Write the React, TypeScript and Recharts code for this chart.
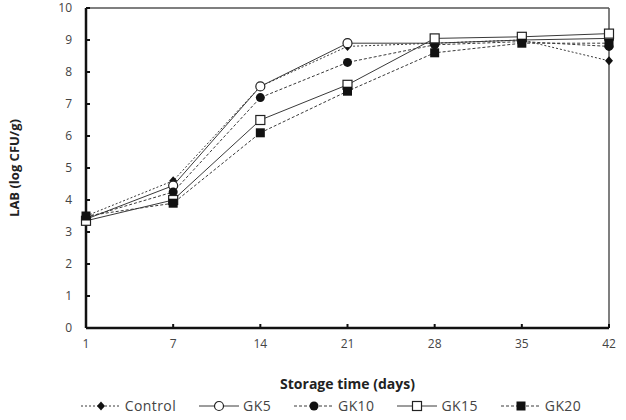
import React from "react"
import { LineChart, Line, XAxis, YAxis, ReferenceLine, Legend } from "recharts"

const days = ["1", "7", "14", "21", "28", "35", "42"]
const yTicks = [0, 1, 2, 3, 4, 5, 6, 7, 8, 9, 10]

const control = [3.5, 4.6, 7.55, 8.8, 8.9, 9.0, 8.35]
const gk5 = [3.4, 4.45, 7.55, 8.9, 8.9, 9.0, 9.05]
const gk10 = [3.45, 4.25, 7.2, 8.3, 8.85, 8.95, 8.8]
const gk15 = [3.35, 4.0, 6.5, 7.6, 9.05, 9.1, 9.2]
const gk20 = [3.5, 3.9, 6.1, 7.4, 8.6, 8.9, 8.9]

type Shape = "diamond" | "circleOpen" | "circle" | "squareOpen" | "square"

const series: { key: string; name: string; values: number[]; shape: Shape; dash?: string }[] = [
    { key: "control", name: "Control", values: control, shape: "diamond", dash: "2 2" },
    { key: "gk5", name: "GK5", values: gk5, shape: "circleOpen" },
    { key: "gk10", name: "GK10", values: gk10, shape: "circle", dash: "3 2" },
    { key: "gk15", name: "GK15", values: gk15, shape: "squareOpen" },
    { key: "gk20", name: "GK20", values: gk20, shape: "square", dash: "3 2" },
]

const data = days.map((d, i) => {
    const row: Record<string, string | number> = { day: d }
    series.forEach((s) => {
        row[s.key] = s.values[i]
    })
    return row
})

const FONT = "'Open Sans', 'Noto Sans', sans-serif"
const LINE = "#3a3a3a"

function Marker({ cx, cy, shape }: { cx: number; cy: number; shape: Shape }) {
    switch (shape) {
        case "diamond":
            return <path d={`M${cx},${cy - 4.5}L${cx + 4},${cy}L${cx},${cy + 4.5}L${cx - 4},${cy}Z`} fill="#111" />
        case "circleOpen":
            return <circle cx={cx} cy={cy} r={4.5} fill="#fff" stroke="#222" strokeWidth={1.2} />
        case "circle":
            return <circle cx={cx} cy={cy} r={4.5} fill="#111" />
        case "squareOpen":
            return <rect x={cx - 4.5} y={cy - 4.5} width={9} height={9} fill="#fff" stroke="#222" strokeWidth={1.2} />
        default:
            return <rect x={cx - 4.5} y={cy - 4.5} width={9} height={9} fill="#111" />
    }
}

function LegendContent() {
    return (
        <div
            style={{
                display: "flex",
                justifyContent: "center",
                alignItems: "center",
                gap: 22,
                fontFamily: FONT,
                fontSize: 14,
                letterSpacing: 0.4,
                color: "#444",
                paddingLeft: 48,
            }}
        >
            {series.map((s) => (
                <div key={s.key} style={{ display: "flex", alignItems: "center" }}>
                    <svg width={42} height={12}>
                        <line x1={1} y1={6} x2={41} y2={6} stroke={LINE} strokeWidth={1} strokeDasharray={s.dash} />
                        <Marker cx={21} cy={6} shape={s.shape} />
                    </svg>
                    <span style={{ marginLeft: 3 }}>{s.name}</span>
                </div>
            ))}
        </div>
    )
}

export default function App() {
    return (
        <div style={{ position: "absolute", left: 0, top: 0, background: "#fff" }}>
            <LineChart width={626} height={420} data={data} margin={{ top: 8, right: 17, left: 4, bottom: 0 }}>
                <XAxis
                    dataKey="day"
                    height={68}
                    axisLine={{ stroke: "#111", strokeWidth: 2.5 }}
                    tickLine={{ stroke: "#111", strokeWidth: 2 }}
                    tickSize={-4}
                    tickMargin={15}
                    tick={{ fontSize: 12, fill: "#444", fontFamily: FONT }}
                    label={{
                        value: "Storage time (days)",
                        position: "insideBottom",
                        offset: 7,
                        style: { fontSize: 14, fontWeight: 700, fill: "#222", fontFamily: FONT },
                    }}
                />
                <YAxis
                    width={82}
                    domain={[0, 10]}
                    ticks={yTicks}
                    interval={0}
                    axisLine={{ stroke: "#111", strokeWidth: 2.5 }}
                    tickLine={{ stroke: "#111", strokeWidth: 2 }}
                    tickSize={-4}
                    tickMargin={18}
                    tick={{ fontSize: 12, fill: "#444", fontFamily: FONT }}
                    label={{
                        value: "LAB (log CFU/g)",
                        angle: -90,
                        position: "insideLeft",
                        offset: 10,
                        style: { textAnchor: "middle", fontSize: 13, fontWeight: 700, fill: "#222", fontFamily: FONT },
                    }}
                />
                <ReferenceLine y={10} stroke="#555" strokeWidth={1.5} />
                <ReferenceLine x="42" stroke="#555" strokeWidth={1.5} />
                {series.map((s) => (
                    <Line
                        key={s.key}
                        dataKey={s.key}
                        name={s.name}
                        type="linear"
                        stroke={LINE}
                        strokeWidth={1}
                        strokeDasharray={s.dash}
                        dot={(p: any) => <Marker key={`${s.key}-${p.index}`} cx={p.cx} cy={p.cy} shape={s.shape} />}
                        activeDot={false}
                        isAnimationActive={false}
                    />
                ))}
                <Legend verticalAlign="bottom" height={24} content={() => <LegendContent />} />
            </LineChart>
        </div>
    )
}
